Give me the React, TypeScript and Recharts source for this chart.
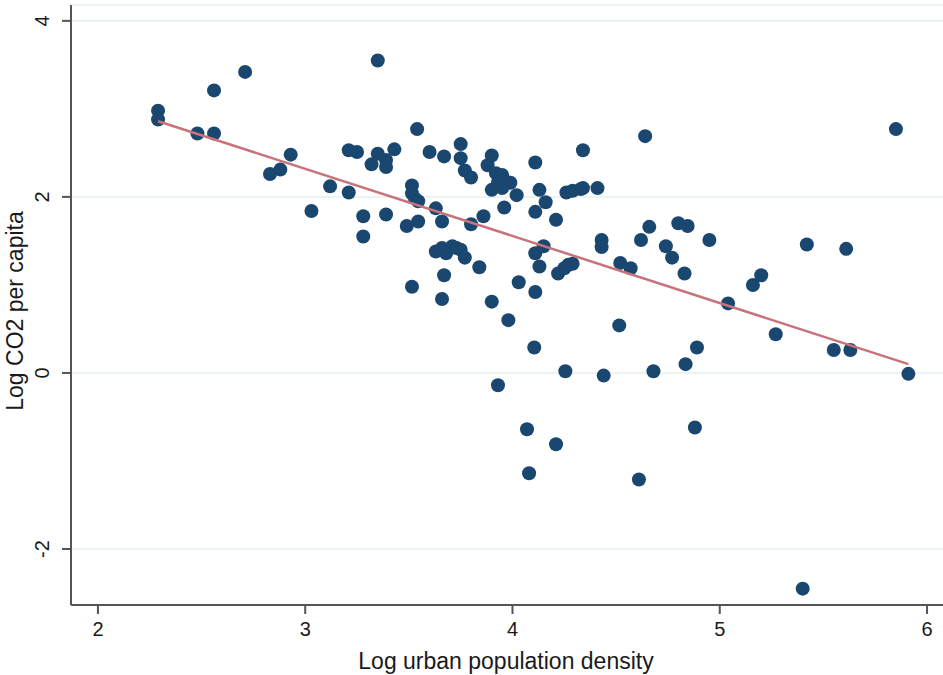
import { ScatterChart, Scatter, XAxis, YAxis, CartesianGrid } from 'recharts';

// Log urban population density (x) and Log CO2 per capita (y), one entry per country
const densityLog = [
  2.29, 2.29, 2.48, 2.56, 2.56, 2.71, 2.83, 2.88, 2.93, 3.03,
  3.12, 3.21, 3.21, 3.25, 3.28, 3.28, 3.32, 3.35, 3.35, 3.39,
  3.39, 3.43, 3.39, 3.54, 3.515, 3.515, 3.53, 3.545, 3.49, 3.545,
  3.6, 3.63, 3.66, 3.67, 3.75, 3.75, 3.77, 3.8, 3.8, 3.86,
  3.88, 3.9, 3.92, 3.95, 3.93, 3.96, 3.99, 3.9, 3.95, 3.96,
  4.02, 4.11, 4.13, 4.16, 4.11, 4.21, 4.34, 4.26, 4.29, 4.33,
  4.34, 4.41, 3.63, 3.66, 3.68, 3.71, 3.73, 3.75, 3.77, 3.84,
  3.67, 3.515, 3.66, 3.9, 3.98, 4.03, 4.11, 4.11, 4.15, 4.13,
  4.22, 4.25, 4.27, 4.29, 4.43, 4.43, 4.52, 4.57, 4.64, 5.85,
  4.66, 4.62, 4.8, 4.845, 4.74, 4.77, 4.95, 4.83, 5.42, 5.61,
  5.16, 5.2, 5.04, 5.27, 5.55, 5.63, 5.91, 5.4, 4.105, 4.515,
  3.93, 4.255, 4.44, 4.68, 4.835, 4.89, 4.07, 4.21, 4.08, 4.61,
  4.88,
];

const co2Log = [
  2.98, 2.88, 2.72, 2.72, 3.21, 3.42, 2.26, 2.31, 2.48, 1.84,
  2.12, 2.05, 2.53, 2.51, 1.78, 1.55, 2.37, 3.55, 2.49, 2.42,
  2.34, 2.54, 1.8, 2.77, 2.13, 2.04, 1.98, 1.95, 1.67, 1.72,
  2.51, 1.87, 1.72, 2.46, 2.6, 2.44, 2.3, 2.22, 1.69, 1.78,
  2.36, 2.47, 2.27, 2.25, 2.17, 2.19, 2.16, 2.08, 2.1, 1.88,
  2.02, 2.39, 2.08, 1.94, 1.83, 1.74, 2.53, 2.05, 2.07, 2.09,
  2.1, 2.1, 1.38, 1.42, 1.36, 1.44, 1.42, 1.4, 1.31, 1.2,
  1.11, 0.98, 0.84, 0.81, 0.6, 1.03, 0.92, 1.36, 1.44, 1.21,
  1.13, 1.19, 1.23, 1.24, 1.51, 1.43, 1.25, 1.19, 2.69, 2.77,
  1.66, 1.51, 1.7, 1.67, 1.44, 1.31, 1.51, 1.13, 1.46, 1.41,
  1.0, 1.11, 0.79, 0.44, 0.26, 0.26, -0.01, -2.45, 0.29, 0.54,
  -0.14, 0.02, -0.03, 0.02, 0.1, 0.29, -0.64, -0.81, -1.14, -1.21,
  -0.62,
];

// fitted line end points
const fitX = [2.29, 5.91];
const fitY = [2.86, 0.1];

const xTicks = [2, 3, 4, 5, 6];
const yTicks = [-2, 0, 2, 4];

const points = densityLog.map((x, i) => ({ x, y: co2Log[i] }));
const fitLine = fitX.map((x, i) => ({ x, y: fitY[i] }));

const FONT = '"Liberation Sans", Arial, Helvetica, sans-serif';
const AXIS = '#555555';
const DOT = '#1a476f';
const FIT = '#c8737a';

const Dot = (p: any) => <circle cx={p.cx} cy={p.cy} r={7} fill={DOT} />;
const NoDot = () => <g />;

const XTick = (p: any) => (
  <text
    x={p.x}
    y={p.y + 22}
    textAnchor="middle"
    fontSize={20}
    fontFamily={FONT}
    fill="#1a1a1a"
  >
    {p.payload.value}
  </text>
);

const YTick = (p: any) => (
  <text
    transform={`translate(${p.x - 13}, ${p.y}) rotate(-90)`}
    textAnchor="middle"
    fontSize={20}
    fontFamily={FONT}
    fill="#1a1a1a"
  >
    {p.payload.value}
  </text>
);

const XTitle = () => (
  <text x={506} y={669} textAnchor="middle" fontSize={23} fontFamily={FONT} fill="#1a1a1a">
    Log urban population density
  </text>
);

const YTitle = () => (
  <text
    transform="translate(23, 311) rotate(-90)"
    textAnchor="middle"
    fontSize={23}
    fontFamily={FONT}
    fill="#1a1a1a"
  >
    Log CO2 per capita
  </text>
);

export default function App() {
  return (
    <div style={{ position: 'absolute', left: 0, top: 0, background: '#fff' }}>
      <ScatterChart width={943} height={675} margin={{ top: 5, right: 0, bottom: 0, left: 0 }}>
        <CartesianGrid vertical={false} stroke="#e4eff0" strokeWidth={1.5} />
        <XAxis
          type="number"
          dataKey="x"
          domain={[1.87, 6.077]}
          ticks={xTicks}
          allowDataOverflow
          height={70}
          tickSize={9}
          tickMargin={0}
          tick={<XTick />}
          axisLine={{ stroke: AXIS, strokeWidth: 2 }}
          tickLine={{ stroke: AXIS, strokeWidth: 2 }}
          label={<XTitle />}
        />
        <YAxis
          type="number"
          dataKey="y"
          domain={[-2.636, 4.18]}
          ticks={yTicks}
          allowDataOverflow
          width={71}
          tickSize={9}
          tickMargin={0}
          tick={<YTick />}
          axisLine={{ stroke: AXIS, strokeWidth: 2 }}
          tickLine={{ stroke: AXIS, strokeWidth: 2 }}
          label={<YTitle />}
        />
        <Scatter data={points} shape={Dot} isAnimationActive={false} />
        <Scatter
          data={fitLine}
          shape={NoDot}
          line={{ stroke: FIT, strokeWidth: 2.5 }}
          isAnimationActive={false}
        />
      </ScatterChart>
    </div>
  );
}
